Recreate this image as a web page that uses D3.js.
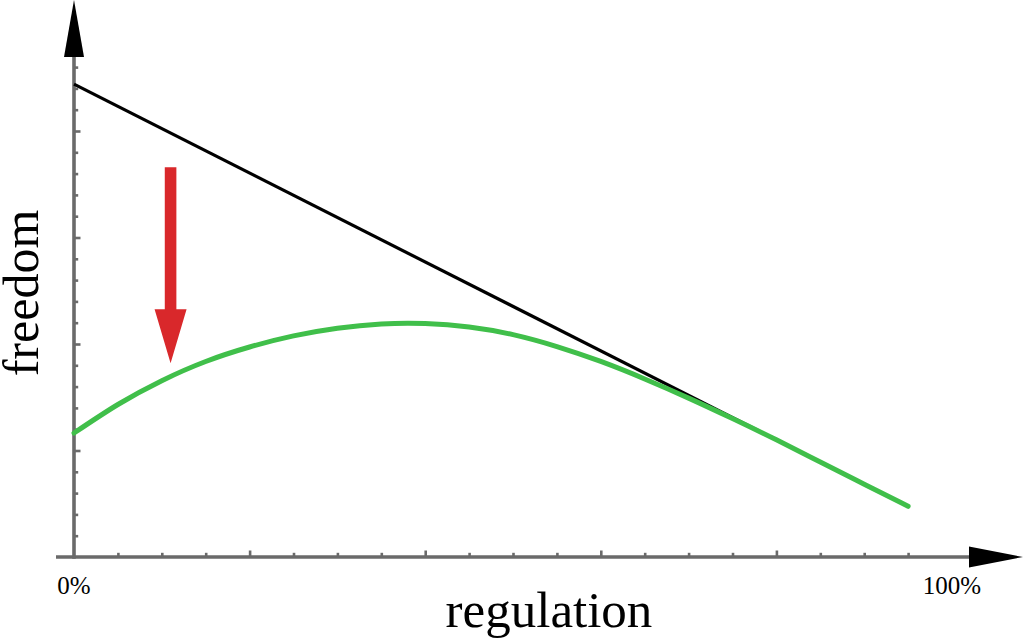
<!DOCTYPE html>
<html>
<head>
<meta charset="utf-8">
<script src="https://cdn.jsdelivr.net/npm/d3@7"></script>
<style>
  html, body { margin: 0; padding: 0; background: #fff; }
  svg { display: block; }
  text { font-family: "Liberation Serif", "DejaVu Serif", serif; fill: #000; }
</style>
</head>
<body>
<svg id="chart" width="1024" height="644"></svg>
<script>
// ---- data ----
const regulation = [0, 0.05, 0.10, 0.15, 0.20, 0.25, 0.30, 0.35, 0.40, 0.45, 0.50, 0.55, 0.60, 0.65, 0.70, 0.75, 0.80, 0.85, 0.90, 0.95];
const freedomActual = [0.291, 0.358, 0.414, 0.459, 0.493, 0.519, 0.537, 0.547, 0.548, 0.540, 0.522, 0.494, 0.459, 0.418, 0.373, 0.325, 0.275, 0.223, 0.171, 0.119];
const idealX = [0, 0.78];
const idealY = [1.11, 0.296];
const arrowX = [0.11, 0.11];
const arrowY = [0.915, 0.455];
const xTickLabels = ["0%", "100%"];
const xTickLabelPos = [0, 1];
const xMinorTicks = d3.range(1, 20).map(i => +(i * 0.05).toFixed(2));
const xMajorTicks = [0.2, 0.4, 0.6, 0.8];
const yMinorTicks = d3.range(1, 24).map(i => +(i * 0.05).toFixed(2));
const yMajorTicks = [0.25, 0.5, 0.75, 1.0];

// ---- layout ----
const svg = d3.select("#chart");
const x = d3.scaleLinear().domain([0, 1]).range([74, 952]);
const y = d3.scaleLinear().domain([0, 1]).range([557, 131]);
const axisColor = "#6a6a6a";

// axes lines
svg.append("line").attr("x1", 56).attr("x2", 972).attr("y1", y(0)).attr("y2", y(0))
  .attr("stroke", axisColor).attr("stroke-width", 3.6);
svg.append("line").attr("x1", x(0)).attr("x2", x(0)).attr("y1", y(0) + 1.8).attr("y2", 54)
  .attr("stroke", axisColor).attr("stroke-width", 3.6);

// ticks via d3 axes
function tickAxis(axisFn, scale, values, size, transform) {
  const g = svg.append("g").attr("transform", transform)
    .call(axisFn(scale).tickValues(values).tickSize(size).tickSizeOuter(0).tickFormat(""));
  g.select(".domain").remove();
  g.selectAll(".tick line").attr("stroke", axisColor).attr("stroke-width", 2.6);
  return g;
}
const notMajor = majors => v => !majors.some(m => Math.abs(m - v) < 1e-6);
tickAxis(d3.axisBottom, x, xMinorTicks.filter(notMajor(xMajorTicks)), -4.2, `translate(0,${y(0)})`);
tickAxis(d3.axisBottom, x, xMajorTicks, -6.5, `translate(0,${y(0)})`);
tickAxis(d3.axisLeft, y, yMinorTicks.filter(notMajor(yMajorTicks)), -4.2, `translate(${x(0)},0)`);
tickAxis(d3.axisLeft, y, yMajorTicks, -6.5, `translate(${x(0)},0)`);

// arrowheads
svg.append("path").attr("d", `M${x(0)},0 L${x(0) - 10},57 L${x(0) + 10},57 Z`).attr("fill", "#000");
svg.append("path").attr("d", `M1023,${y(0)} L969,${y(0) - 10.5} L969,${y(0) + 10.5} Z`).attr("fill", "#000");

// tick labels
svg.selectAll(".xlab").data(xTickLabels).enter().append("text")
  .attr("x", (d, i) => x(xTickLabelPos[i])).attr("y", 594)
  .attr("text-anchor", "middle").attr("font-size", 25).text(d => d);

// axis titles
svg.append("text").attr("x", 549).attr("y", 627).attr("text-anchor", "middle")
  .attr("font-size", 51).text("regulation");
svg.append("text").attr("transform", "translate(38,293) rotate(-90)").attr("text-anchor", "middle")
  .attr("font-size", 50).text("freedom");

// ideal line (black)
const line = d3.line().x(d => x(d[0])).y(d => y(d[1]));
svg.append("path").datum(idealX.map((v, i) => [v, idealY[i]]))
  .attr("d", line).attr("fill", "none").attr("stroke", "#000").attr("stroke-width", 3.2);

// actual curve (green)
const curve = d3.line().x(d => x(d[0])).y(d => y(d[1])).curve(d3.curveNatural);
svg.append("path").datum(regulation.map((v, i) => [v, freedomActual[i]]))
  .attr("d", curve).attr("fill", "none").attr("stroke", "#40bf4a").attr("stroke-width", 5)
  .attr("stroke-linecap", "round");

// red arrow
const ax = x(arrowX[0]), ay0 = y(arrowY[0]), ay1 = y(arrowY[1]);
const headLen = 54, headHalf = 16, shaftHalf = 5.8;
svg.append("path")
  .attr("d", `M${ax - shaftHalf},${ay0} L${ax + shaftHalf},${ay0} L${ax + shaftHalf},${ay1 - headLen} L${ax + headHalf},${ay1 - headLen} L${ax},${ay1} L${ax - headHalf},${ay1 - headLen} L${ax - shaftHalf},${ay1 - headLen} Z`)
  .attr("fill", "#d9282b");
</script>
</body>
</html>
